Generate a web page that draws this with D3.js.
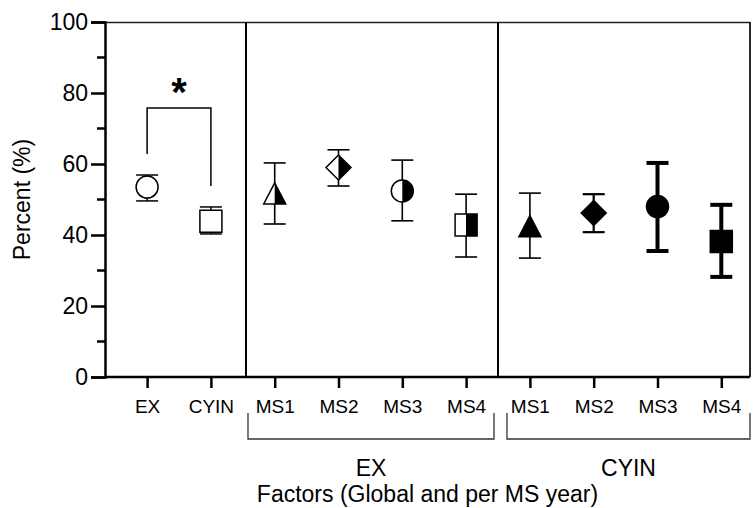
<!DOCTYPE html>
<html>
<head>
<meta charset="utf-8">
<script src="https://cdn.jsdelivr.net/npm/d3@7"></script>
<style>
  body { margin: 0; background: #fff; }
  svg { display: block; font-family: "Liberation Sans", Arial, sans-serif; }
</style>
</head>
<body>
<svg width="755" height="508"></svg>
<script>
// Values
const categories = ["EX", "CYIN", "MS1", "MS2", "MS3", "MS4", "MS1", "MS2", "MS3", "MS4"];
const means = [53.5, 43.9, 51.7, 59.0, 52.4, 42.8, 42.5, 46.2, 48.0, 38.2];
const upper = [56.9, 47.9, 60.3, 64.0, 61.1, 51.5, 51.8, 51.5, 60.3, 48.5];
const lower = [49.6, 40.3, 43.1, 53.8, 44.0, 33.8, 33.5, 40.8, 35.5, 28.2];
const groupLabels = ["EX", "CYIN"];
const yTicks = [0, 20, 40, 60, 80, 100];
// significance bracket between the two global points
const sig = { top: 75.8, left: 62.8, right: 53.8, label: "*" };

// Styles (kept apart from the data)
const shapes = ["circle", "square", "triangle", "diamond", "circle", "square", "triangle", "diamond", "circle", "square"];
const fills = ["open", "open", "half", "half", "half", "half", "solid", "solid", "solid", "solid"];
const barWidth = [1.5, 1.5, 1.6, 1.6, 1.6, 1.6, 1.6, 2.2, 4, 4];

const svg = d3.select("svg");
const plotL = 105, plotR = 750, plotT = 22, plotB = 377;

const x = d3.scaleLinear().domain([-0.66, 9.45]).range([plotL, plotR]);
const y = d3.scaleLinear().domain([0, 100]).range([plotB, plotT]);

const paths = {
    circle: "M11,0A11,11 0 1,1 -11,0A11,11 0 1,1 11,0Z",
    square: "M-11,-11H11V11H-11Z",
    triangle: "M0,-10.5L11,10.5H-11Z",
    diamond: "M0,-12.5L12.5,0L0,12.5L-12.5,0Z",
};

svg.append("defs").append("clipPath").attr("id", "righthalf")
    .append("rect").attr("x", 0).attr("y", -20).attr("width", 20).attr("height", 40);

// frame
svg.append("line").attr("x1", plotL).attr("x2", plotR).attr("y1", plotT + 0.5).attr("y2", plotT + 0.5)
    .attr("stroke", "#222").attr("stroke-width", 1.5);
svg.append("line").attr("x1", plotR).attr("x2", plotR).attr("y1", plotT).attr("y2", plotB)
    .attr("stroke", "#111").attr("stroke-width", 1.8);
[1.55, 5.5].forEach(v => {
    svg.append("line").attr("x1", x(v)).attr("x2", x(v)).attr("y1", plotT).attr("y2", plotB)
        .attr("stroke", "#000").attr("stroke-width", 2);
});

// y axis
const yAxis = svg.append("g").attr("transform", `translate(${plotL},0)`)
    .call(d3.axisLeft(y).tickValues(yTicks).tickSize(14).tickPadding(3));
yAxis.append("g").selectAll("line").data(d3.range(10, 100, 20)).join("line")
    .attr("x1", -8).attr("x2", 0).attr("y1", d => y(d)).attr("y2", d => y(d));
yAxis.select(".domain").attr("stroke-width", 2.5);
yAxis.selectAll("line").attr("stroke", "#000").attr("stroke-width", 2.5);
yAxis.selectAll("text").attr("font-size", 23).attr("fill", "#000").attr("font-family", null);

// x axis
const xAxis = svg.append("g").attr("transform", `translate(0,${plotB})`)
    .call(d3.axisBottom(x).tickValues(d3.range(categories.length))
        .tickFormat(i => categories[i]).tickSize(11).tickPadding(12).tickSizeOuter(0));
xAxis.select(".domain").attr("d", `M${plotL},0H${plotR}`).attr("stroke-width", 2.5);
xAxis.selectAll("line").attr("stroke", "#000").attr("stroke-width", 2.5);
xAxis.selectAll("text").attr("font-size", 19).attr("fill", "#000").attr("font-family", null);

// group brackets below the ticks
const brackets = [[x(1.55) + 2, x(5.5) - 4], [x(5.5) + 9, plotR]];
brackets.forEach(([a, b], i) => {
    svg.append("path").attr("d", `M${a},413V439H${b}V413`)
        .attr("fill", "none").attr("stroke", "#333").attr("stroke-width", 1.3);
    svg.append("text").attr("x", (a + b) / 2).attr("y", 476).attr("text-anchor", "middle")
        .attr("font-size", 23).text(groupLabels[i]);
});

// axis titles
svg.append("text").attr("transform", `translate(30,${(plotT + plotB) / 2}) rotate(-90)`)
    .attr("text-anchor", "middle").attr("font-size", 23).text("Percent (%)");
svg.append("text").attr("x", (plotL + plotR) / 2).attr("y", 502).attr("text-anchor", "middle")
    .attr("font-size", 23).text("Factors (Global and per MS year)");

// significance bracket
svg.append("path")
    .attr("d", `M${x(0)},${y(sig.left)}V${y(sig.top)}H${x(1)}V${y(sig.right)}`)
    .attr("fill", "none").attr("stroke", "#000").attr("stroke-width", 1.5);
svg.append("text").attr("x", (x(0) + x(1)) / 2).attr("y", 106).attr("text-anchor", "middle")
    .attr("font-size", 40).attr("font-weight", "bold").text(sig.label);

// error bars
const pts = categories.map((c, i) => ({ i, m: means[i], hi: upper[i], lo: lower[i] }));
const bars = svg.append("g").selectAll("g").data(pts).join("g")
    .attr("stroke", "#000").attr("stroke-width", d => barWidth[d.i]);
bars.append("line").attr("x1", d => x(d.i)).attr("x2", d => x(d.i))
    .attr("y1", d => y(d.hi)).attr("y2", d => y(d.lo));
bars.append("line").attr("x1", d => x(d.i) - 11).attr("x2", d => x(d.i) + 11)
    .attr("y1", d => y(d.hi)).attr("y2", d => y(d.hi));
bars.append("line").attr("x1", d => x(d.i) - 11).attr("x2", d => x(d.i) + 11)
    .attr("y1", d => y(d.lo)).attr("y2", d => y(d.lo));

// markers
const marks = svg.append("g").selectAll("g").data(pts).join("g")
    .attr("transform", d => `translate(${x(d.i)},${y(d.m)})`);
marks.append("path").attr("d", d => paths[shapes[d.i]])
    .attr("fill", d => fills[d.i] === "solid" ? "#000" : "#fff")
    .attr("stroke", "#000").attr("stroke-width", 1.5);
marks.filter(d => fills[d.i] === "half").append("path")
    .attr("d", d => paths[shapes[d.i]]).attr("fill", "#000")
    .attr("clip-path", "url(#righthalf)");
</script>
</body>
</html>
